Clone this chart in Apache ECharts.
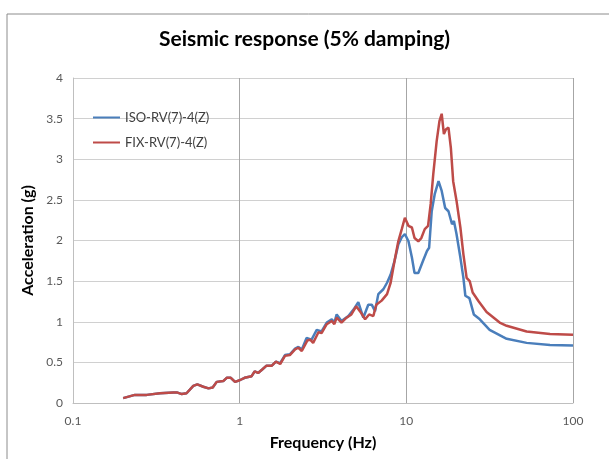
<!DOCTYPE html>
<html>
<head>
<meta charset="utf-8">
<script src="https://cdn.jsdelivr.net/npm/echarts@6/dist/echarts.min.js"></script>
<style>
  html, body { margin: 0; padding: 0; background: #fff; }
  #chart { width: 609px; height: 459px; }
</style>
</head>
<body>
<div id="chart"></div>
<script>
// frequency (Hz) / acceleration (g)
var isoFreq = [0.2, 0.235, 0.277, 0.333, 0.4, 0.42, 0.449, 0.48, 0.527, 0.557, 0.605, 0.65, 0.689, 0.728, 0.797, 0.836, 0.885, 0.938, 1.0, 1.07, 1.18, 1.23, 1.29, 1.36, 1.45, 1.56, 1.65, 1.75, 1.87, 2.0, 2.15, 2.25, 2.36,
  2.52, 2.7, 2.9, 3.1, 3.33, 3.57, 3.7, 3.82, 4.08, 4.49, 4.82, 5.15, 5.52, 5.91, 6.2, 6.49, 6.79, 7.28, 7.66, 8.05, 8.5, 8.95, 9.39, 9.8, 10.3, 10.8, 11.2, 11.8, 12.6, 13.3, 13.7, 14.2, 14.8, 15.6, 16.3, 17.1, 17.9, 18.8, 19.3, 20.0, 21.1, 22.0, 22.6, 23.9, 25.4, 27.6, 31.6, 40, 52.7, 72.8, 100];
var isoAcc = [0.06, 0.10, 0.10, 0.12, 0.13, 0.13, 0.11, 0.12, 0.21, 0.23, 0.20, 0.18, 0.19, 0.26, 0.27, 0.31, 0.31, 0.26, 0.28, 0.31, 0.33, 0.39, 0.37, 0.41, 0.46, 0.46, 0.51, 0.49, 0.59, 0.60, 0.67, 0.69, 0.66,
  0.80, 0.78, 0.90, 0.88, 0.99, 1.03, 0.99, 1.09, 1.01, 1.07, 1.15, 1.24, 1.05, 1.21, 1.21, 1.13, 1.34, 1.40, 1.48, 1.58, 1.75, 1.95, 2.04, 2.08, 1.99, 1.79, 1.60, 1.60, 1.75, 1.87, 1.91, 2.36, 2.57, 2.73, 2.61, 2.40, 2.36, 2.20, 2.24, 2.08, 1.79, 1.54, 1.32, 1.29, 1.09, 1.03, 0.90, 0.79, 0.74, 0.715, 0.707];

var fixFreq = [0.2, 0.235, 0.277, 0.333, 0.4, 0.42, 0.449, 0.48, 0.527, 0.557, 0.605, 0.65, 0.689, 0.728, 0.797, 0.836, 0.885, 0.938, 1.0, 1.07, 1.18, 1.23, 1.29, 1.36, 1.45, 1.56, 1.65, 1.75, 1.87, 2.0, 2.15, 2.25, 2.36,
  2.55, 2.65, 2.76, 2.97, 3.1, 3.33, 3.57, 3.7, 3.82, 4.08, 4.38, 4.68, 5.0, 5.35, 5.66, 5.98, 6.34, 6.6, 7.11, 7.66, 8.05, 8.5, 8.95, 9.39, 9.8, 10.3, 10.8, 11.2, 11.8, 12.3, 12.9, 13.5, 14.0, 14.5, 15.2, 15.8, 16.3, 16.8, 17.3, 17.9, 18.5, 19.1, 20.0, 21.1, 22.0, 23.0, 24.0, 25.0, 27.2, 30.3, 36.3, 40, 52.7, 72.8, 100];
var fixAcc = [0.06, 0.10, 0.10, 0.12, 0.13, 0.13, 0.11, 0.12, 0.21, 0.23, 0.20, 0.18, 0.19, 0.26, 0.27, 0.31, 0.31, 0.26, 0.28, 0.31, 0.33, 0.39, 0.37, 0.41, 0.46, 0.46, 0.51, 0.48, 0.58, 0.59, 0.66, 0.68, 0.64,
  0.77, 0.78, 0.74, 0.87, 0.86, 0.97, 1.01, 0.97, 1.05, 0.99, 1.05, 1.09, 1.19, 1.11, 1.03, 1.09, 1.07, 1.21, 1.26, 1.34, 1.48, 1.75, 1.99, 2.14, 2.28, 2.18, 2.16, 2.03, 1.99, 2.03, 2.14, 2.18, 2.45, 2.81, 3.22, 3.47, 3.56, 3.31, 3.37, 3.39, 3.14, 2.73, 2.49, 2.16, 1.83, 1.54, 1.50, 1.36, 1.25, 1.12, 0.99, 0.95, 0.88, 0.85, 0.84];

var seriesNames = ['ISO-RV(7)-4(Z)', 'FIX-RV(7)-4(Z)'];
var seriesColors = ['#4a7ebb', '#be4b48'];
var yTicks = [0, 0.5, 1, 1.5, 2, 2.5, 3, 3.5, 4];

function pairs(xs, ys) {
  var out = [];
  for (var i = 0; i < xs.length; i++) {
    out.push([xs[i], ys[i]]);
  }
  return out;
}

var chart = echarts.init(document.getElementById('chart'));
var font = 'Lato, "Open Sans", sans-serif';

var option = {
  animation: false,
  textStyle: { fontFamily: font },
  graphic: [{
    type: 'rect',
    shape: { x: 7, y: 14, width: 700, height: 600 },
    style: { fill: 'none', stroke: '#8c8c8c', lineWidth: 1 },
    silent: true
  }],
  title: {
    text: 'Seismic response (5% damping)',
    left: 'center',
    top: 24,
    textStyle: { fontFamily: font, fontSize: 21, fontWeight: 'bold', color: '#000' }
  },
  legend: {
    orient: 'vertical',
    left: 88,
    top: 106,
    icon: 'rect',
    itemWidth: 27,
    itemHeight: 2,
    itemGap: 12,
    textStyle: { fontFamily: font, fontSize: 13, color: '#404040' },
    data: seriesNames
  },
  grid: { left: 73, right: 36, top: 78, bottom: 56 },
  xAxis: {
    type: 'log',
    logBase: 10,
    min: 0.1,
    max: 100,
    name: 'Frequency (Hz)',
    nameLocation: 'middle',
    nameGap: 32,
    nameTextStyle: { fontFamily: font, fontSize: 16, fontWeight: 'bold', color: '#000' },
    axisLine: { lineStyle: { color: '#bfbfbf' } },
    axisTick: { show: false },
    axisLabel: {
      color: '#595959', fontSize: 12, margin: 12,
      formatter: function (v) { return String(Math.round(v * 1000) / 1000); }
    },
    splitLine: { show: true, lineStyle: { color: '#a6a6a6' } }
  },
  yAxis: {
    type: 'value',
    min: yTicks[0],
    max: yTicks[yTicks.length - 1],
    interval: 0.5,
    name: 'Acceleration (g)',
    nameLocation: 'middle',
    nameGap: 35,
    nameTextStyle: { fontFamily: font, fontSize: 16, fontWeight: 'bold', color: '#000' },
    axisLine: { show: true, lineStyle: { color: '#bfbfbf' } },
    axisTick: { show: false },
    axisLabel: { color: '#595959', fontSize: 12, margin: 10 },
    splitLine: { show: true, lineStyle: { color: '#d0d0d0' } }
  },
  series: [{
    name: seriesNames[0],
    type: 'line',
    symbol: 'none',
    color: seriesColors[0],
    lineStyle: { width: 2.5 },
    data: pairs(isoFreq, isoAcc)
  }, {
    name: seriesNames[1],
    type: 'line',
    symbol: 'none',
    color: seriesColors[1],
    lineStyle: { width: 2.5 },
    data: pairs(fixFreq, fixAcc)
  }]
};
chart.setOption(option);
</script>
</body>
</html>
